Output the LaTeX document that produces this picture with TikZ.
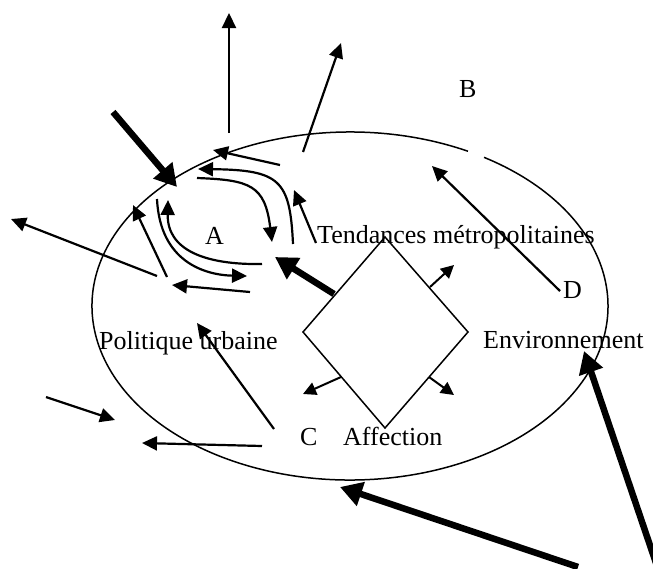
\documentclass[tikz,border=0pt]{standalone}
\usepackage{fontspec}
\setmainfont{Liberation Serif}
\usetikzlibrary{arrows.meta}
\begin{document}
\begin{tikzpicture}[x=1pt,y=-1pt,
  thinarr/.style={line width=2.2pt,-{Triangle[length=15pt,width=14pt]}},
  smallarr/.style={line width=2pt,-{Triangle[length=13pt,width=13pt]}},
  thickarr/.style={line width=6.5pt,-{Triangle[length=22pt,width=24pt]}},
  curvearr/.style={line width=2.2pt,-{Triangle[length=15pt,width=14pt]}},
  ell/.style={line width=1.5pt},
  shapeline/.style={line width=1.5pt,line join=miter},
  lbl/.style={inner sep=0pt,anchor=base west,font=\fontsize{26}{30}\selectfont}]
\useasboundingbox[fill=white] (0,0) rectangle (653,568);
% ellipse with a small gap near the top right
\coordinate (ctr) at (350,306);
\draw[ell] ([shift={(62.8:258pt and 174pt)}]ctr) arc[start angle=62.8, end angle=418.7, x radius=258pt, y radius=174pt];
% diamond
\coordinate (dT) at (385,237);
\coordinate (dR) at (468,332);
\coordinate (dB) at (385,428);
\coordinate (dL) at (303,332);
\draw[shapeline] (dT) -- (dR) -- (dB) -- (dL) -- cycle;
% labels
\node[lbl] (B) at (459,97) {B};
\node[lbl] (A) at (205,244) {A};
\node[lbl] (Tm) at (317,243) {Tendances métropolitaines};
\node[lbl] (D) at (563,298) {D};
\node[lbl] (Env) at (483,348) {Environnement};
\node[lbl] (Pol) at (99,349) {Politique urbaine};
\node[lbl] (C) at (300,445) {C};
\node[lbl] (Aff) at (343,445) {Affection};
% coordinates
\coordinate (v0) at (229,133); \coordinate (v1) at (229,13);
\coordinate (n0) at (303,152); \coordinate (n1) at (341,43);
\coordinate (t0) at (113,112); \coordinate (t1) at (177,187);
\coordinate (r0) at (280,165); \coordinate (r1) at (213,150);
\coordinate (a0) at (293,244); \coordinate (a1) at (198,169);
\coordinate (b0) at (197,178); \coordinate (b1) at (272,242);
\coordinate (c0) at (262,264); \coordinate (c1) at (168,200);
\coordinate (d0) at (157,199); \coordinate (d1) at (247,276);
\coordinate (p0) at (167,277); \coordinate (p1) at (133,205);
\coordinate (q0) at (250,292); \coordinate (q1) at (172,285);
\coordinate (w0) at (157,276); \coordinate (w1) at (11,219);
\coordinate (m0) at (334,294); \coordinate (m1) at (275,257);
\coordinate (e0) at (316,243); \coordinate (e1) at (294,190);
\coordinate (k0) at (430,287); \coordinate (k1) at (454,265);
\coordinate (l0) at (341,377); \coordinate (l1) at (303,394);
\coordinate (o0) at (429,377); \coordinate (o1) at (454,395);
\coordinate (dd0) at (560,291); \coordinate (dd1) at (432,166);
\coordinate (u0) at (274,429); \coordinate (u1) at (197,323);
\coordinate (h0) at (262,446); \coordinate (h1) at (142,443);
\coordinate (g0) at (46,397); \coordinate (g1) at (115,420);
\coordinate (s0) at (578,567); \coordinate (s1) at (340,487);
\coordinate (z0) at (657,566); \coordinate (z1) at (584,351);
% straight arrows
\draw[thinarr] (v0) -- (v1);
\draw[thinarr] (n0) -- (n1);
\draw[thinarr] (r0) -- (r1);
\draw[thinarr] (p0) -- (p1);
\draw[thinarr] (q0) -- (q1);
\draw[thinarr] (w0) -- (w1);
\draw[thinarr] (e0) -- (e1);
\draw[thinarr] (dd0) -- (dd1);
\draw[thinarr] (u0) -- (u1);
\draw[thinarr] (h0) -- (h1);
\draw[thinarr] (g0) -- (g1);
\draw[smallarr] (k0) -- (k1);
\draw[smallarr] (l0) -- (l1);
\draw[smallarr] (o0) -- (o1);
% curved arrows
\draw[curvearr] (a0) .. controls (290,180) and (280,170) .. (a1);
\draw[curvearr] (b0) .. controls (250,180) and (265,185) .. (b1);
\draw[curvearr] (c0) .. controls (205,265) and (167,250) .. (c1);
\draw[curvearr] (d0) .. controls (160,262) and (205,275) .. (d1);
% thick arrows
\draw[thickarr] (t0) -- (t1);
\draw[thickarr] (m0) -- (m1);
\draw[thickarr] (s0) -- (s1);
\draw[thickarr] (z0) -- (z1);
\end{tikzpicture}
\end{document}
